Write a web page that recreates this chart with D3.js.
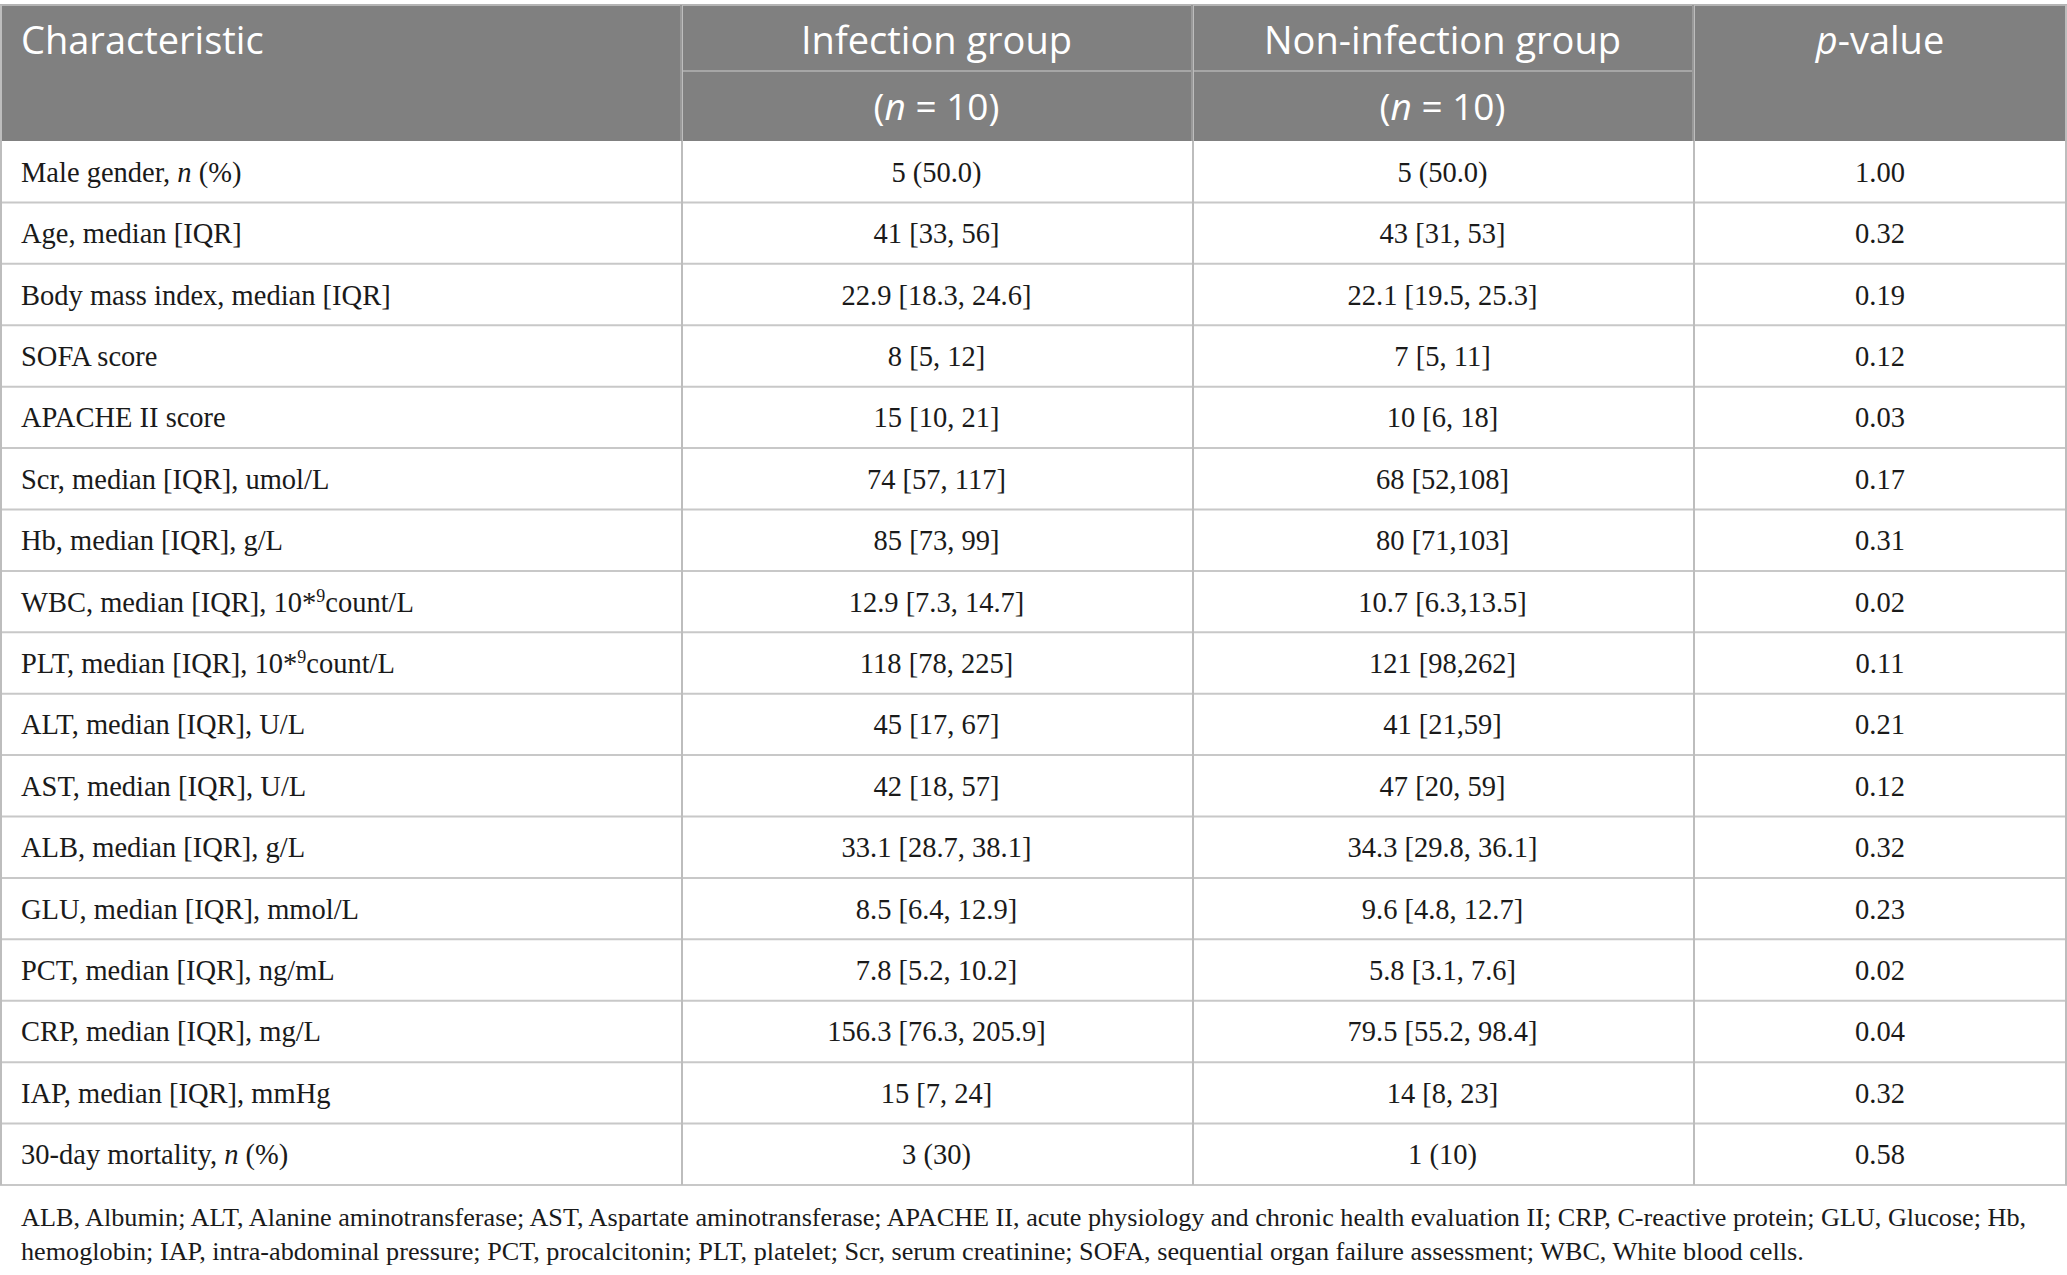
<!DOCTYPE html>
<html>
<head>
<meta charset="utf-8">
<script src="https://cdn.jsdelivr.net/npm/d3@7"></script>
<style>
  body { margin: 0; background: #fff; }
  svg { display: block; }
</style>
</head>
<body>
<script>
// table content (_x_ = italic, ^x^ = superscript)
var characteristics = [
  "Male gender, _n_ (%)",
  "Age, median [IQR]",
  "Body mass index, median [IQR]",
  "SOFA score",
  "APACHE II score",
  "Scr, median [IQR], umol/L",
  "Hb, median [IQR], g/L",
  "WBC, median [IQR], 10*^9^count/L",
  "PLT, median [IQR], 10*^9^count/L",
  "ALT, median [IQR], U/L",
  "AST, median [IQR], U/L",
  "ALB, median [IQR], g/L",
  "GLU, median [IQR], mmol/L",
  "PCT, median [IQR], ng/mL",
  "CRP, median [IQR], mg/L",
  "IAP, median [IQR], mmHg",
  "30-day mortality, _n_ (%)"
];
var infectionGroup = [
  "5 (50.0)", "41 [33, 56]", "22.9 [18.3, 24.6]", "8 [5, 12]", "15 [10, 21]",
  "74 [57, 117]", "85 [73, 99]", "12.9 [7.3, 14.7]", "118 [78, 225]", "45 [17, 67]",
  "42 [18, 57]", "33.1 [28.7, 38.1]", "8.5 [6.4, 12.9]", "7.8 [5.2, 10.2]",
  "156.3 [76.3, 205.9]", "15 [7, 24]", "3 (30)"
];
var nonInfectionGroup = [
  "5 (50.0)", "43 [31, 53]", "22.1 [19.5, 25.3]", "7 [5, 11]", "10 [6, 18]",
  "68 [52,108]", "80 [71,103]", "10.7 [6.3,13.5]", "121 [98,262]", "41 [21,59]",
  "47 [20, 59]", "34.3 [29.8, 36.1]", "9.6 [4.8, 12.7]", "5.8 [3.1, 7.6]",
  "79.5 [55.2, 98.4]", "14 [8, 23]", "1 (10)"
];
var pValues = [
  "1.00", "0.32", "0.19", "0.12", "0.03", "0.17", "0.31", "0.02", "0.11",
  "0.21", "0.12", "0.32", "0.23", "0.02", "0.04", "0.32", "0.58"
];
var headerTop = ["Characteristic", "Infection group", "Non-infection group", "_p_-value"];
var headerSub = ["", "(_n_ = 10)", "(_n_ = 10)", ""];
var footnote = [
  "ALB, Albumin; ALT, Alanine aminotransferase; AST, Aspartate aminotransferase; APACHE II, acute physiology and chronic health evaluation II; CRP, C-reactive protein; GLU, Glucose; Hb,",
  "hemoglobin; IAP, intra-abdominal pressure; PCT, procalcitonin; PLT, platelet; Scr, serum creatinine; SOFA, sequential organ failure assessment; WBC, White blood cells."
];

var width = 2067, height = 1275;
var tableTop = 5, headerMid = 71, headerBottom = 141, tableBottom = 1185;
var colKeys = ["char", "inf", "non", "p"];
var colEdges = [0, 681, 1192, 1693, 2067];

var svg = d3.select("body").append("svg")
  .attr("width", width)
  .attr("height", height);

var x = d3.scaleOrdinal().domain(colKeys).range(colEdges.slice(0, 4));
var xEnd = d3.scaleOrdinal().domain(colKeys).range(colEdges.slice(1));
function xMid(k) { return (x(k) + xEnd(k)) / 2; }

var y = d3.scaleBand()
  .domain(d3.range(characteristics.length))
  .range([headerBottom, tableBottom]);

// writes a string with _italic_ and ^super^ parts as tspans
function richText(sel, str, supSize) {
  var parts = str.split(/(_[^_]+_|\^[^^]+\^)/).filter(function(s) { return s.length; });
  var raised = false;
  parts.forEach(function(p) {
    var t = sel.append("tspan");
    if (p[0] == "_") {
      t.text(p.slice(1, -1)).attr("font-style", "italic");
      if (raised) { t.attr("dy", 10); raised = false; }
    } else if (p[0] == "^") {
      t.text(p.slice(1, -1)).attr("font-size", supSize).attr("dy", -10);
      raised = true;
    } else {
      t.text(p);
      if (raised) { t.attr("dy", 10); raised = false; }
    }
  });
}

// header
svg.append("rect")
  .attr("x", 0).attr("y", tableTop)
  .attr("width", width).attr("height", headerBottom - tableTop)
  .attr("fill", "#808080");

svg.append("line")
  .attr("x1", 0).attr("x2", width)
  .attr("y1", tableTop).attr("y2", tableTop)
  .attr("stroke", "#b4b4b4").attr("stroke-width", 2);

svg.append("line")
  .attr("x1", x("inf")).attr("x2", xEnd("non"))
  .attr("y1", headerMid).attr("y2", headerMid)
  .attr("stroke", "#a6a6a6").attr("stroke-width", 2);

var headFont = "'Open Sans', sans-serif";
colKeys.forEach(function(k, i) {
  var t = svg.append("text")
    .attr("x", i == 0 ? 21 : xMid(k))
    .attr("y", 54)
    .attr("text-anchor", i == 0 ? "start" : "middle")
    .attr("font-family", headFont)
    .attr("font-size", 38)
    .attr("fill", "#fff");
  richText(t, headerTop[i], 24);
  if (headerSub[i]) {
    var s = svg.append("text")
      .attr("x", xMid(k))
      .attr("y", 120)
      .attr("text-anchor", "middle")
      .attr("font-family", headFont)
      .attr("font-size", 37)
      .attr("fill", "#fff");
    richText(s, headerSub[i], 24);
  }
});

// grid lines
svg.selectAll(".hline")
  .data(d3.range(characteristics.length))
  .join("line")
  .attr("x1", 0).attr("x2", width)
  .attr("y1", function(d) { return y(d) + y.bandwidth(); })
  .attr("y2", function(d) { return y(d) + y.bandwidth(); })
  .attr("stroke", "#c8c8c8").attr("stroke-width", 2);

svg.selectAll(".vline")
  .data(colEdges)
  .join("line")
  .attr("x1", function(d) { return d == width ? d - 1 : d + 1; })
  .attr("x2", function(d) { return d == width ? d - 1 : d + 1; })
  .attr("y1", tableTop).attr("y2", tableBottom)
  .attr("stroke", "#bdbdbd")
  .attr("stroke-width", 2);

svg.selectAll(".vhead")
  .data(colEdges.slice(1, 4))
  .join("line")
  .attr("x1", function(d) { return d; }).attr("x2", function(d) { return d; })
  .attr("y1", tableTop).attr("y2", headerBottom)
  .attr("stroke", "#9a9a9a").attr("stroke-width", 2);

// body cells
var bodyFont = "'Liberation Serif', 'Times New Roman', serif";
var columns = [characteristics, infectionGroup, nonInfectionGroup, pValues];
columns.forEach(function(col, ci) {
  var k = colKeys[ci];
  svg.append("g").selectAll("text")
    .data(col)
    .join("text")
    .attr("x", ci == 0 ? 21 : xMid(k))
    .attr("y", function(d, i) { return y(i) + y.bandwidth() / 2 + 10; })
    .attr("text-anchor", ci == 0 ? "start" : "middle")
    .attr("font-family", bodyFont)
    .attr("font-size", 28.5)
    .attr("fill", "#1a1a1a")
    .each(function(d) { richText(d3.select(this), d, 18); });
});

// footnote
svg.selectAll(".foot")
  .data(footnote)
  .join("text")
  .attr("x", 21)
  .attr("y", function(d, i) { return 1226 + i * 34; })
  .attr("font-family", bodyFont)
  .attr("font-size", 26.2)
  .attr("fill", "#1a1a1a")
  .text(function(d) { return d; });
</script>
</body>
</html>
